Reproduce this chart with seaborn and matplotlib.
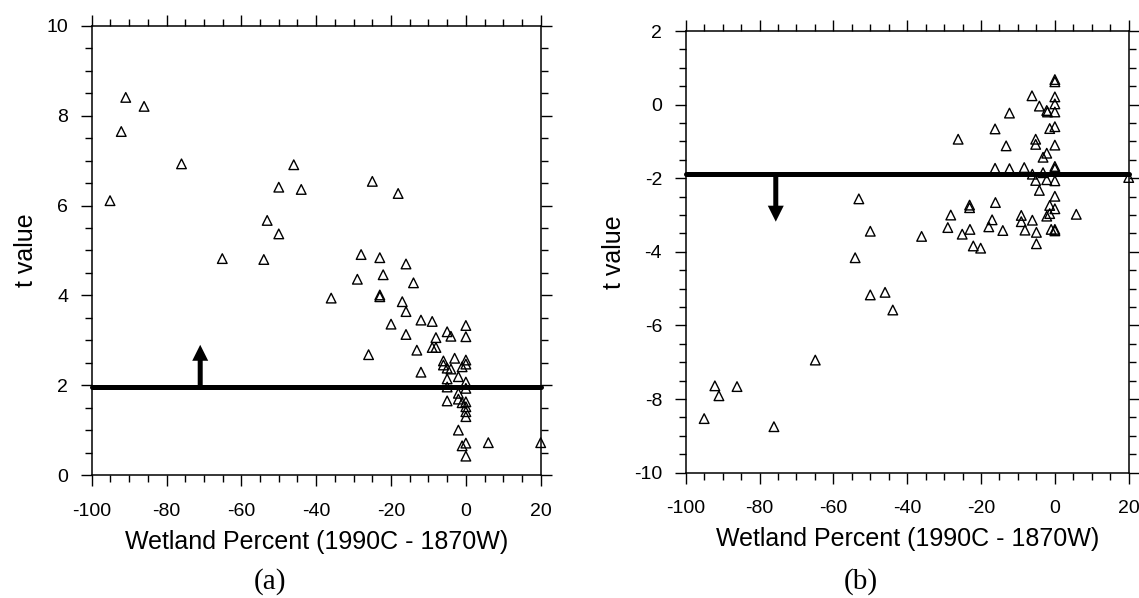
import numpy as np
import matplotlib
matplotlib.use("Agg")
import matplotlib.pyplot as plt
from matplotlib.ticker import MultipleLocator
from matplotlib.patches import FancyArrowPatch
import seaborn as sns
import pandas as pd

# ---- data: panel (a) ----
a_x = [-95.1, -92.1, -90.9, -86.0, -76.0, -65.1, -54.0, -53.1, -50.0, -50.0,
       -46.0, -44.0, -36.0, -29.0, -28.0, -26.0, -25.0, -23.0, -23.0, -23.0,
       -22.1, -20.0, -18.1, -17.0, -16.0, -16.0, -16.0, -14.0, -13.1, -12.0,
       -12.0, -9.0, -9.0, -8.0, -8.0, -6.0, -6.0, -5.0, -5.0, -5.0,
       -5.0, -5.0, -4.0, -4.0, -3.0, -2.0, -2.0, -2.0, -2.0, -1.0,
       -1.0, -1.0, 0.0, 0.0, 0.0, 0.0, 0.0, 0.0, 0.0, 0.0,
       0.0, 0.0, 0.0, 0.0, 6.0, 20.0]
a_y = [6.11, 7.65, 8.41, 8.21, 6.93, 4.82, 4.80, 5.67, 6.41, 5.37,
       6.91, 6.36, 3.94, 4.36, 4.91, 2.68, 6.54, 4.84, 3.97, 4.01,
       4.46, 3.36, 6.27, 3.86, 4.70, 3.64, 3.13, 4.28, 2.78, 3.45,
       2.29, 3.42, 2.84, 2.84, 3.06, 2.54, 2.45, 3.19, 2.38, 2.14,
       1.96, 1.65, 3.09, 2.36, 2.60, 2.19, 1.82, 1.69, 1.00, 2.41,
       1.61, 0.65, 3.33, 3.08, 2.56, 2.47, 2.07, 1.93, 1.63, 1.52,
       1.41, 1.30, 0.71, 0.42, 0.72, 0.72]
a_threshold = 1.96
a_arrow = (-71.0, 1.96, 2.90)

# ---- data: panel (b) ----
b_x = [-95.0, -92.1, -91.0, -86.1, -76.1, -64.9, -54.1, -53.1, -50.0, -50.0,
       -46.0, -43.9, -36.1, -29.0, -28.2, -26.2, -25.1, -23.1, -23.1, -23.0,
       -22.1, -20.1, -17.0, -17.9, -16.1, -16.2, -16.2, -14.1, -12.3, -12.3,
       -13.2, -9.1, -9.1, -8.3, -8.1, -6.2, -6.1, -6.1, -5.2, -5.2,
       -5.2, -5.0, -5.0, -4.2, -4.2, -3.2, -3.2, -2.2, -2.0, -2.2,
       -2.2, -2.2, -1.4, -1.4, -1.4, -1.0, 0.0, 0.0, 0.0, 0.0,
       0.0, 0.0, 0.0, 0.0, 0.0, 0.0, 0.0, 0.0, 0.0, 0.0,
       5.8, 20.0]
b_y = [-8.53, -7.64, -7.91, -7.66, -8.75, -6.94, -4.16, -2.56, -3.44, -5.17,
       -5.10, -5.58, -3.58, -3.34, -3.00, -0.94, -3.52, -2.73, -2.80, -3.39,
       -3.84, -3.90, -3.13, -3.32, -2.66, -0.66, -1.73, -3.42, -0.23, -1.74,
       -1.12, -3.01, -3.18, -1.71, -3.41, 0.24, -1.89, -3.14, -0.94, -1.08,
       -2.06, -3.47, -3.78, -0.04, -2.33, -1.43, -1.85, -0.16, -0.20, -1.32,
       -2.04, -3.03, -0.65, -2.74, -2.96, -3.39, 0.68, 0.62, 0.21, 0.02,
       -0.20, -0.60, -1.10, -1.68, -1.74, -2.07, -2.49, -2.83, -3.39, -3.43,
       -2.98, -1.98]
b_threshold = -1.89
b_arrow = (-75.6, -1.89, -3.18)

x_label = "Wetland Percent (1990C - 1870W)"
y_label = "t value"
captions = ["(a)", "(b)"]

sns.set_style("ticks")
plt.rcParams["font.family"] = ["Liberation Sans", "DejaVu Sans"]
plt.rcParams["axes.unicode_minus"] = False
for key in ["text.color", "axes.labelcolor", "xtick.color", "ytick.color",
            "xtick.labelcolor", "ytick.labelcolor"]:
    plt.rcParams[key] = "black"

fig = plt.figure(figsize=(11.39, 5.98), dpi=100)
W, H = 1139, 598

def make_axes(l, r, t, b):
    return fig.add_axes([l / W, 1 - b / H, (r - l) / W, (b - t) / H])

ax_a = make_axes(91.7, 540.7, 26, 475)
ax_b = make_axes(685.7, 1128.7, 31, 472.7)

panels = [
    (ax_a, a_x, a_y, a_threshold, a_arrow, (0, 10)),
    (ax_b, b_x, b_y, b_threshold, b_arrow, (-10, 2)),
]

for ax, xs, ys, thr, arr, ylim in panels:
    df = pd.DataFrame({"x": xs, "y": ys})
    sns.scatterplot(data=df, x="x", y="y", ax=ax, marker="^", s=48,
                    facecolor="none", edgecolor="black", linewidth=1.0,
                    clip_on=False, zorder=3)
    ax.axhline(thr, color="black", lw=3.6, zorder=4, clip_on=False)
    arrow = FancyArrowPatch((arr[0], arr[1]), (arr[0], arr[2]),
                            arrowstyle="simple,head_length=1.15,head_width=1.15,tail_width=0.36",
                            mutation_scale=10, lw=0, color="black",
                            shrinkA=0, shrinkB=0, zorder=5)
    ax.add_patch(arrow)
    ax.set_xlim(-100, 20)
    ax.set_ylim(*ylim)
    ax.xaxis.set_major_locator(MultipleLocator(20))
    ax.xaxis.set_minor_locator(MultipleLocator(5))
    ax.yaxis.set_major_locator(MultipleLocator(2))
    ax.yaxis.set_minor_locator(MultipleLocator(0.5))
    ax.tick_params(which="both", direction="out", top=True, right=True,
                   labeltop=False, labelright=False, color="black",
                   labelsize=14, width=1.0, labelcolor="black")
    ax.tick_params(which="major", length=8)
    ax.tick_params(axis="x", which="major", pad=12)
    ax.tick_params(axis="y", which="major", pad=9)
    ax.tick_params(which="minor", length=4.8)
    for sp in ax.spines.values():
        sp.set_visible(True)
        sp.set_linewidth(1.1)
        sp.set_color("black")
    ax.set_xlabel(x_label, fontsize=18, labelpad=7)
    ax.set_ylabel(y_label, fontsize=18, labelpad=6)
    ax.grid(False)

fig.text(269.7 / W, 1 - 582 / H, captions[0], ha="center", va="center",
         fontsize=21, family=["Liberation Serif", "DejaVu Serif"])
fig.text(860.7 / W, 1 - 582 / H, captions[1], ha="center", va="center",
         fontsize=21, family=["Liberation Serif", "DejaVu Serif"])

fig.savefig("out.png", dpi=100, facecolor="white")
